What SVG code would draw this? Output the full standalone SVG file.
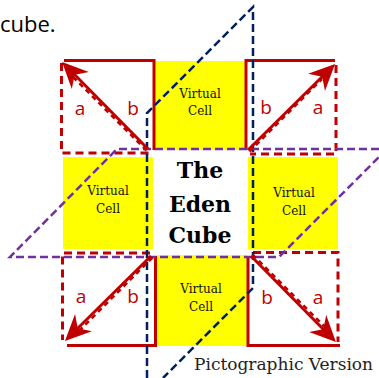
<svg xmlns="http://www.w3.org/2000/svg" width="379" height="378" viewBox="0 0 379 378">
<style>
.cell{fill:#FFFF00}
.vc{font-family:"DejaVu Serif","Liberation Serif",serif;font-size:12px;fill:#111;text-anchor:middle}
.solid{stroke:#C00000;stroke-width:3;fill:none}
.dash{stroke:#C00000;stroke-width:3;fill:none;stroke-dasharray:8 5}
.lbl{font-family:"Open Sans","Liberation Sans",sans-serif;font-size:19px;fill:#C00000;text-anchor:middle}
.arr{stroke:#C00000;stroke-width:3;fill:none}
.arrd{stroke:#C00000;stroke-width:2.5;fill:none;stroke-dasharray:5 4}
.blue{stroke:#002060;stroke-width:2.5;fill:none;stroke-dasharray:8 4}
.purple{stroke:#7030A0;stroke-width:2.5;fill:none;stroke-dasharray:8 4}
.title{font-family:"DejaVu Serif","Liberation Serif",serif;font-weight:bold;font-size:22px;fill:#000;text-anchor:middle}
</style>
<defs>
<marker id="ah" viewBox="-15 -13 30 26" markerWidth="30" markerHeight="26" refX="0" refY="0" orient="auto" markerUnits="userSpaceOnUse">
<path d="M12,0 L-14,-12 L-6,0 L-14,12 Z" fill="#C00000"/>
</marker>
</defs>
<text x="0" y="32" font-family="'Open Sans','Liberation Sans',sans-serif" font-size="22" fill="#000">cube.</text>

<g id="cell-top">
<rect class="cell" x="155" y="61" width="90" height="89"/>
<text class="vc" x="200" y="98">Virtual</text>
<text class="vc" x="200" y="115">Cell</text>
</g>
<g id="cell-left">
<rect class="cell" x="63" y="157" width="90" height="92"/>
<text class="vc" x="108" y="195">Virtual</text>
<text class="vc" x="108" y="213">Cell</text>
</g>
<g id="cell-right">
<rect class="cell" x="248" y="157" width="90" height="92"/>
<text class="vc" x="294" y="197">Virtual</text>
<text class="vc" x="294" y="215">Cell</text>
</g>
<g id="cell-bottom">
<rect class="cell" x="156" y="255" width="91" height="91"/>
<text class="vc" x="201" y="293">Virtual</text>
<text class="vc" x="201" y="311">Cell</text>
</g>
<g id="center">
<text class="title" x="200" y="178">The</text>
<text class="title" x="200" y="212">Eden</text>
<text class="title" x="200" y="243">Cube</text>
</g>

<g id="square-tl">
<path class="solid" d="M64,60.5 H154 V150"/>
<path class="dash" d="M61.5,63 V153 H150"/>
<text class="lbl" x="80" y="115">a</text>
<text class="lbl" x="133" y="115">b</text>
</g>
<g id="square-tr">
<path class="solid" d="M335,60.5 H246 V150"/>
<path class="dash" d="M336,65 V154 H250"/>
<text class="lbl" x="266" y="114">b</text>
<text class="lbl" x="318" y="114">a</text>
</g>
<g id="square-bl">
<path class="dash" d="M150,253 H62.5 V340"/>
<path class="solid" d="M67,345.5 H155.5 V256"/>
<text class="lbl" x="81" y="303">a</text>
<text class="lbl" x="133" y="303">b</text>
</g>
<g id="square-br">
<path class="dash" d="M253,252.5 H338 V342"/>
<path class="solid" d="M340,345.5 H248 V257"/>
<text class="lbl" x="267" y="304">b</text>
<text class="lbl" x="318" y="304">a</text>
</g>

<g id="planes">
<path class="blue" d="M147,378 V113 L253,7 V288 L163,378"/>
<path class="purple" d="M379,149 H117 L10,257 H279 L379,157"/>
</g>

<g id="connectors">
<line class="arr" x1="148" y1="149" x2="70.5" y2="70.5" marker-end="url(#ah)"/>
<line class="arrd" x1="146.5" y1="150.5" x2="72" y2="76"/>
<line class="arr" x1="248" y1="150" x2="326.5" y2="72.5" marker-end="url(#ah)"/>
<line class="arrd" x1="249.5" y1="151.5" x2="322" y2="79"/>
<line class="arr" x1="151" y1="256" x2="73.5" y2="332.5" marker-end="url(#ah)"/>
<line class="arrd" x1="152.5" y1="257.5" x2="79" y2="331"/>
<line class="arr" x1="251" y1="256" x2="327.5" y2="333.5" marker-end="url(#ah)"/>
<line class="arrd" x1="252.5" y1="254.5" x2="326" y2="328"/>
</g>

<text x="194" y="370" font-family="'DejaVu Serif','Liberation Serif',serif" font-size="17" fill="#222">Pictographic Version</text>
</svg>
